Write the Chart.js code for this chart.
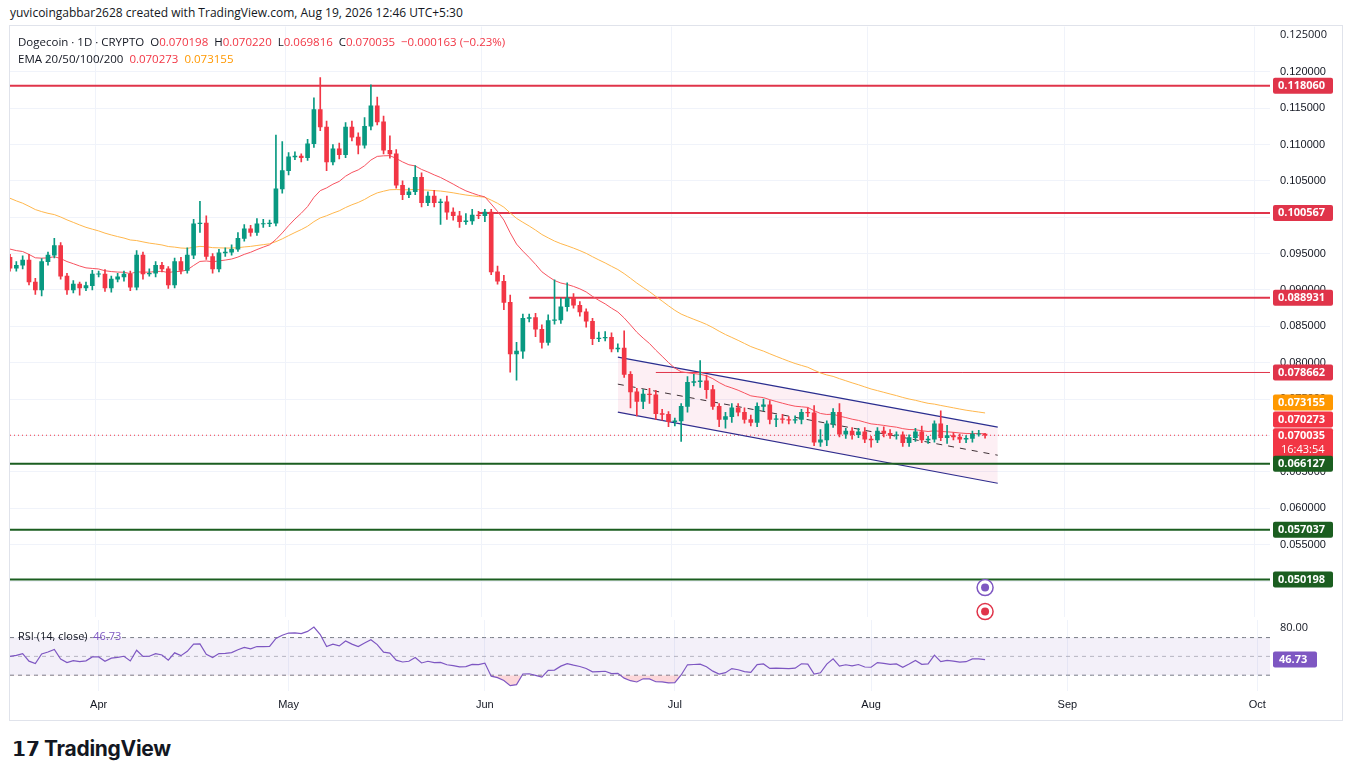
<!DOCTYPE html>
<html>
<head>
<meta charset="utf-8">
<script src="https://cdn.jsdelivr.net/npm/chart.js@4.4.1/dist/chart.umd.min.js"></script>
<style>
  body { margin: 0; background: #fff; font-family: "Open Sans", Roboto, sans-serif; width: 1355px; height: 779px; overflow: hidden; position: relative; }
  #credit { position: absolute; left: 10px; top: 4px; font-size: 12px; color: #131722; }
  #frame { position: absolute; left: 9px; top: 25px; width: 1332px; height: 694px; border: 1px solid #e0e3eb; }
  #main { position: absolute; left: 0; top: 10px; }
  #rsi { position: absolute; left: 0; top: 620px; }
  .leg { position: absolute; left: 18px; font-size: 11.5px; color: #131722; }
  #logo { position: absolute; left: 12px; top: 736px; font-size: 21px; font-weight: 700; color: #131722; font-family: Inter, "Open Sans", sans-serif; letter-spacing: -0.3px; }
</style>
</head>
<body>
<div id="credit">yuvicoingabbar2628 created with TradingView.com, Aug 19, 2026 12:46 UTC+5:30</div>
<div id="frame"></div>
<canvas id="main" width="1340" height="624"></canvas>
<canvas id="rsi" width="1340" height="100"></canvas>
<div class="leg" style="top:34px">Dogecoin · 1D · CRYPTO &nbsp;O<span style="color:#f23645">0.070198</span> &nbsp;H<span style="color:#f23645">0.070220</span> &nbsp;L<span style="color:#f23645">0.069816</span> &nbsp;C<span style="color:#f23645">0.070035 &nbsp;−0.000163 (−0.23%)</span></div>
<div class="leg" style="top:51px">EMA 20/50/100/200 &nbsp;<span style="color:#f23645">0.070273</span> &nbsp;<span style="color:#ff9800">0.073155</span></div>
<div class="leg" style="top:628px;left:18px;font-size:11px">RSI (14, close) &nbsp;<span style="color:#7e57c2">46.73</span></div>
<div id="logo"><span style="font-size:20px">𝟭𝟳</span> TradingView</div>
<script>
document.addEventListener('DOMContentLoaded', function() {
    // Harga penutupan harian, 18 Mar - 19 Aug
    const closes = [
        0.0930,0.0934,0.0941,0.0911,0.0900,0.0939,0.0948,0.0961,0.0919,0.0900,0.0908,
        0.0903,0.0906,0.0922,0.0922,0.0903,0.0915,0.0918,0.0922,0.0904,0.0948,
        0.0922,0.0923,0.0934,0.0929,0.0907,0.0939,0.0927,0.0948,0.0991,0.0992,
        0.0946,0.0929,0.0951,0.0952,0.0956,0.0971,0.0984,0.0979,0.0991,0.0991,0.0992,
        // 29 Apr - 31 May
        0.1039,0.1064,0.1083,0.1084,0.1082,0.1101,0.1148,0.1124,0.1076,0.1094,0.1086,
        0.1124,0.1110,0.1099,0.1125,0.1153,0.1131,0.1092,0.1087,0.1044,0.1031,0.1035,
        0.1055,0.1020,0.1029,0.1020,0.1021,0.1007,0.1002,0.0994,0.0995,0.1003,0.1002,
        // Jun
        0.1007,0.0925,0.0912,0.0883,0.0812,0.0816,0.0861,0.0862,0.0846,0.0828,0.0858,
        0.0859,0.0877,0.0889,0.0879,0.0870,0.0857,0.0833,0.0834,0.0835,0.0819,0.0820,
        0.0784,0.0760,0.0747,0.0757,0.0756,0.0730,0.0729,0.0719,0.0720,0.0740,
        // Jul
        0.0773,0.0774,0.0775,0.0763,0.0740,0.0722,0.0726,0.0738,0.0732,0.0722,
        0.0718,0.0740,0.0742,0.0722,0.0723,0.0722,0.0721,0.0722,0.0732,0.0731,
        0.0691,0.0694,0.0716,0.0732,0.0702,0.0706,0.0701,0.0705,0.0695,0.0694,
        // Aug
        0.0706,0.0703,0.0700,0.0701,0.0690,0.0697,0.0705,0.0694,0.0695,0.0716,
        0.0697,0.0700,0.0698,0.0695,0.0696,0.0702,0.07020,0.070035
    ];
    // Sumbu atas/bawah (x 0.0001) dari badan candle
    const wicks = [
        [4,4],[5,4],[6,5],[8,4],[5,6],[4,8],[4,5],[10,4],[4,4],[4,6],[5,4],
        [3,10],[5,4],[5,6],[4,4],[6,5],[4,6],[5,4],[4,6],[4,5],[6,4],
        [4,7],[6,3],[5,5],[4,4],[3,5],[5,4],[6,5],[10,4],[6,5],[30,12],
        [10,4],[4,6],[5,4],[6,5],[6,4],[8,3],[6,4],[5,5],[7,4],[6,5],[4,4],
        [74,4],[40,6],[6,6],[6,4],[3,6],[6,4],[16,5],[44,5],[8,12],[6,4],[8,6],
        [6,4],[8,5],[6,12],[12,4],[29,5],[12,4],[8,5],[20,6],[6,4],[6,7],[5,4],
        [16,4],[6,6],[6,4],[8,6],[4,30],[8,10],[6,6],[6,8],[10,4],[8,5],[5,4],
        [4,8],[4,4],[8,4],[8,10],[10,25],[12,36],[6,10],[5,5],[6,10],[6,8],[8,4],
        [55,5],[12,5],[21,6],[6,4],[5,6],[4,8],[4,8],[8,4],[8,4],[6,4],[6,4],[24,4],
        [4,22],[5,20],[6,10],[8,12],[6,8],[6,8],[4,7],[4,6],[4,28],[8,8],
        [10,5],[28,8],[8,12],[6,4],[4,10],[6,12],[6,8],[6,5],[6,5],[6,5],
        [5,6],[8,6],[6,6],[5,10],[6,5],[4,5],[5,4],[4,6],[6,5],[10,5],
        [14,6],[4,8],[5,5],[12,4],[4,6],[5,6],[5,4],[6,5],[4,10],[5,4],
        [6,5],[5,4],[4,5],[4,5],[4,5],[5,5],[8,4],[4,5],[4,4],[18,4],
        [14,8],[4,4],[4,5],[4,5],[4,5],[5,3],[1,4],[1,2]
    ];

    const start = new Date(2026, 2, 18);
    const labels = [];
    for (let i = 0; i < 200; i++) {
        const d = new Date(start); d.setDate(start.getDate() + i);
        labels.push(d);
    }
    const monthName = ['Jan','Feb','Mar','Apr','May','Jun','Jul','Aug','Sep','Oct','Nov','Dec'];

    const bodies = [], wickBars = [], colors = [];
    closes.forEach((c, i) => {
        const o = i === 0 ? 0.0945 : (i === closes.length - 1 ? 0.070198 : closes[i - 1]);
        const w = wicks[i] || [4, 4];
        const top = Math.max(o, c), bot = Math.min(o, c);
        let lo = bot, hi = top;
        if (Math.abs(o - c) < 0.00005) { lo = bot - 0.000025; hi = top + 0.000025; }
        bodies.push([lo, hi]);
        wickBars.push([bot - w[1] / 10000, top + w[0] / 10000]);
        colors.push(c >= o ? '#089981' : '#f23645');
    });

    // EMA
    function ema(src, period, seed) {
        const k = 2 / (period + 1); let v = seed;
        return src.map(c => (v = c * k + v * (1 - k)));
    }
    const ema20 = ema(closes, 20, 0.0959);
    const ema50 = ema(closes, 50, 0.1030);

    // RSI 14 (Wilder)
    const rsiVals = [];
    let ag = 0.0007, al = 0.0007;
    closes.forEach((c, i) => {
        if (i > 0) {
            const ch = c - closes[i - 1];
            ag = (ag * 13 + Math.max(ch, 0)) / 14;
            al = (al * 13 + Math.max(-ch, 0)) / 14;
        }
        rsiVals.push(100 - 100 / (1 + ag / al));
    });

    const last = labels.length - 1;
    // garis dari indeks a ke b (null di luar)
    function seg(a, b, ya, yb) {
        return labels.map((_, i) => (i === a ? ya : i === b ? yb : null));
    }
    const hline = (y, from, color, width) => ({
        type: 'line', data: seg(from, last, y, y), spanGaps: true,
        borderColor: color, borderWidth: width || 2, pointRadius: 0, order: 5
    });
    // Garis level
    const levels = [
        hline(0.118060, 0, '#e0344a'),
        hline(0.100567, 74, '#e0344a'),
        hline(0.088931, 82, '#e0344a'),
        hline(0.078662, 102, '#e0344a', 1),
        hline(0.066127, 0, '#1b5e20'),
        hline(0.057037, 0, '#1b5e20'),
        hline(0.050198, 0, '#1b5e20')
    ];
    // Kanal turun
    const chUpper = {type: 'line', data: seg(96, 156, 0.08078, 0.07115), spanGaps: true, borderColor: '#2a2e8f', borderWidth: 1.2, pointRadius: 0, fill: '+1', backgroundColor: 'rgba(233,30,99,0.07)', order: 6};
    const chLower = {type: 'line', data: seg(96, 156, 0.07321, 0.06344), spanGaps: true, borderColor: '#2a2e8f', borderWidth: 1.2, pointRadius: 0, order: 6};
    const chMid = {type: 'line', data: seg(96, 156, 0.07706, 0.06729), spanGaps: true, borderColor: '#333', borderWidth: 1, borderDash: [6, 6], pointRadius: 0, order: 6};
    const lastLine = {type: 'line', data: seg(0, last, 0.070035, 0.070035), spanGaps: true, borderColor: '#f23645', borderWidth: 1, borderDash: [1, 3], pointRadius: 0, order: 7};

    // [nilai, warna, teks bawah, geser px]
    const badges = [
        [0.118060, '#e0344a', null, 0], [0.100567, '#e0344a', null, 0], [0.088931, '#e0344a', null, 0],
        [0.078662, '#e0344a', null, 0], [0.073155, '#ff9800', null, -10], [0.070273, '#f23645', null, -14],
        [0.070035, '#f23645', '16:43:54', 1], [0.066127, '#1b5e20', null, 0],
        [0.057037, '#1b5e20', null, 0], [0.050198, '#1b5e20', null, 0]
    ];
    const badgePlugin = {
        id: 'badges',
        afterDraw(chart) {
            const c = chart.ctx, y = chart.scales.y, x0 = chart.chartArea.right + 3;
            c.save();
            c.textBaseline = 'middle';
            // label 0.125000 di atas
            c.fillStyle = '#131722'; c.font = '11px "Open Sans", sans-serif';
            c.fillText('0.125000', chart.chartArea.right + 10, y.getPixelForValue(0.125));
            badges.forEach(b => {
                const py = y.getPixelForValue(b[0]) + b[3];
                const h = b[2] ? 30 : 16;
                c.fillStyle = b[1];
                c.beginPath(); c.roundRect(x0, py - 8, 60, h, 2); c.fill();
                c.fillStyle = '#fff';
                c.font = 'bold 11px "Open Sans", sans-serif';
                c.fillText(b[0].toFixed(6), x0 + 5, py);
                if (b[2]) { c.font = '11px "Open Sans", sans-serif'; c.fillText(b[2], x0 + 8, py + 14); }
            });
            // ikon kecil
            const ix = chart.scales.x.getPixelForValue(154);
            [[y.getPixelForValue(0.0491), '#7e57c2'], [y.getPixelForValue(0.0458), '#e0344a']].forEach(p => {
                c.beginPath(); c.arc(ix, p[0], 8, 0, Math.PI * 2);
                c.fillStyle = '#fff'; c.fill(); c.lineWidth = 1.5; c.strokeStyle = p[1]; c.stroke();
                c.beginPath(); c.arc(ix, p[0], 4, 0, Math.PI * 2); c.fillStyle = p[1]; c.fill();
            });
            c.restore();
        }
    };

    const monthGrid = ctx => {
        const d = labels[ctx.index];
        return d && d.getDate() === 1 ? '#f0f3fa' : 'transparent';
    };

    new Chart(document.getElementById('main').getContext('2d'), {
        type: 'bar',
        data: {
            labels: labels,
            datasets: [
                {data: wickBars, backgroundColor: colors, barThickness: 1, grouped: false, order: 2},
                {data: bodies, backgroundColor: colors, barThickness: 4, grouped: false, order: 1},
                {type: 'line', data: ema20, borderColor: '#f7525f', borderWidth: 1, pointRadius: 0, order: 3},
                {type: 'line', data: ema50, borderColor: '#ffb74d', borderWidth: 1, pointRadius: 0, order: 4},
                ...levels, chUpper, chLower, chMid, lastLine
            ]
        },
        options: {
            responsive: false, animation: false,
            layout: {padding: {left: 10, top: 0, bottom: 0}},
            plugins: {legend: {display: false}, tooltip: {enabled: false}},
            scales: {
                x: {display: true, offset: false, ticks: {display: false}, border: {display: false},
                    grid: {color: monthGrid, drawTicks: false}},
                y: {position: 'right', min: 0.0450, max: 0.1262,
                    afterFit: s => { s.width = 70; },
                    border: {display: false},
                    grid: {color: '#f0f3fa', drawTicks: false},
                    ticks: {stepSize: 0.005, color: '#131722', font: {size: 11}, padding: 10,
                        callback: v => (v > 0.0475 && Math.abs(v * 200 - Math.round(v * 200)) < 1e-6) ? v.toFixed(6) : null}}
            }
        },
        plugins: [badgePlugin]
    });

    const rsiBadge = {
        id: 'rsiBadge',
        afterDraw(chart) {
            const c = chart.ctx, ys = chart.scales.y, py = ys.getPixelForValue(46.73), x0 = chart.chartArea.right + 3;
            c.save();
            c.textBaseline = 'middle';
            c.fillStyle = '#131722'; c.font = '11px "Open Sans", sans-serif';
            c.fillText('80.00', chart.chartArea.right + 10, ys.getPixelForValue(80));
            c.fillStyle = '#7e57c2'; c.beginPath(); c.roundRect(x0, py - 8, 44, 16, 2); c.fill();
            c.fillStyle = '#fff'; c.font = 'bold 11px "Open Sans", sans-serif';
            c.fillText('46.73', x0 + 6, py);
            c.restore();
        }
    };
    const flat = v => labels.map(() => v);
    new Chart(document.getElementById('rsi').getContext('2d'), {
        type: 'line',
        data: {
            labels: labels,
            datasets: [
                {data: rsiVals, borderColor: '#7e57c2', borderWidth: 1.2, pointRadius: 0,
                 fill: {target: {value: 30}, above: 'transparent', below: 'rgba(242,54,69,0.2)'}},
                {data: flat(70), borderColor: '#787b86', borderWidth: 1, borderDash: [4, 4], pointRadius: 0,
                 fill: '+1', backgroundColor: 'rgba(126,87,194,0.09)'},
                {data: flat(30), borderColor: '#787b86', borderWidth: 1, borderDash: [4, 4], pointRadius: 0},
                {data: flat(50), borderColor: 'rgba(120,123,134,0.5)', borderWidth: 1, borderDash: [4, 4], pointRadius: 0}
            ]
        },
        options: {
            responsive: false, animation: false,
            layout: {padding: {left: 10, top: 0}},
            plugins: {legend: {display: false}, tooltip: {enabled: false}},
            scales: {
                x: {offset: false, border: {display: false}, grid: {color: monthGrid, drawTicks: false},
                    ticks: {autoSkip: false, maxRotation: 0, color: '#131722', font: {size: 11}, padding: 8,
                        callback: (v, i) => labels[i].getDate() === 1 ? monthName[labels[i].getMonth()] : ''}},
                y: {position: 'right', min: 13.4, max: 88.7, afterFit: s => { s.width = 70; },
                    border: {display: false}, grid: {display: false},
                    ticks: {display: false}}
            }
        },
        plugins: [rsiBadge]
    });
});
</script>
</body>
</html>
